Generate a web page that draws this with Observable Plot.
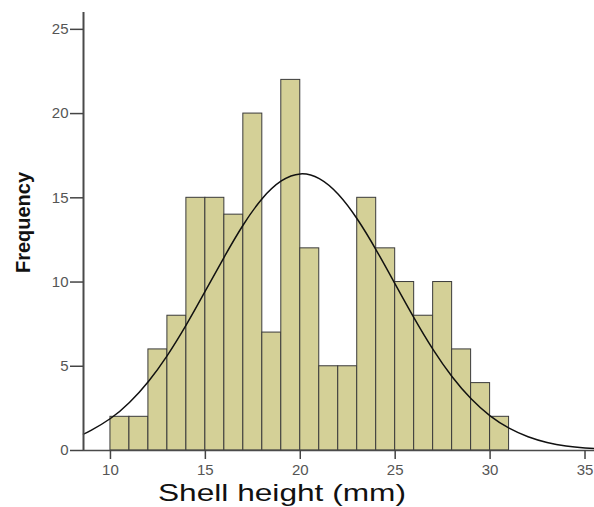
<!DOCTYPE html>
<html>
<head>
<meta charset="utf-8">
<script src="https://cdn.jsdelivr.net/npm/d3@7"></script>
<script src="https://cdn.jsdelivr.net/npm/@observablehq/plot@0.6"></script>
<style>
  html, body { margin: 0; padding: 0; background: #fff; }
  body { font-family: "Liberation Sans", Arial, sans-serif; }
</style>
</head>
<body>
<div id="chart"></div>
<script>
// Histogram bins (lower edge, width 1 mm) and frequencies
const binStarts = [10, 11, 12, 13, 14, 15, 16, 17, 18, 19, 20, 21, 22, 23, 24, 25, 26, 27, 28, 29, 30];
const frequencies = [2, 2, 6, 8, 15, 15, 14, 20, 7, 22, 12, 5, 5, 15, 12, 10, 8, 10, 6, 4, 2];

// Normal curve
const curveX = [8.58, 9, 10, 11, 12, 13, 14, 15, 16, 17, 18, 19, 20, 21, 22, 23, 24, 25, 26, 27, 28, 29, 30, 31, 32, 33, 34, 35, 35.5];
const curveY = [0.97, 1.21, 1.90, 2.85, 4.10, 5.65, 7.47, 9.47, 11.50, 13.40, 14.96, 16.00, 16.42, 16.14, 15.21, 13.74, 11.90, 9.88, 7.86, 5.99, 4.38, 3.07, 2.06, 1.33, 0.82, 0.48, 0.27, 0.15, 0.11];

const xTicks = [10, 15, 20, 25, 30, 35];
const yTicks = [0, 5, 10, 15, 20, 25];
const xLabel = "Shell height (mm)";
const yLabel = "Frequency";

const bars = binStarts.map((b, i) => ({x1: b, x2: b + 1, y: frequencies[i]}));
const curve = curveX.map((x, i) => ({x, y: curveY[i]}));

const xMin = 8.58, xMax = 35.5;

const chart = Plot.plot({
  width: 594,
  height: 507,
  marginLeft: 83,
  marginRight: 0,
  marginTop: 12,
  marginBottom: 57,
  style: {fontFamily: "'Liberation Sans', Arial, sans-serif", background: "#fff"},
  x: {domain: [xMin, xMax]},
  y: {domain: [0, 26]},
  marks: [
    Plot.rectY(bars, {x1: "x1", x2: "x2", y: "y", fill: "#d4d097", stroke: "#3a3a3a", strokeWidth: 1}),
    Plot.line(curve, {x: "x", y: "y", stroke: "#111", strokeWidth: 1.5, curve: "natural"}),
    Plot.ruleX([xMin], {stroke: "#4a4a4a", strokeWidth: 2}),
    Plot.ruleY([0], {stroke: "#4a4a4a", strokeWidth: 1.5}),
    // tick marks from the axes, labels drawn as text marks at the reference size
    Plot.axisX({ticks: xTicks, tickSize: 9, tickFormat: () => "", stroke: "#444", strokeWidth: 1.5, label: null}),
    Plot.axisY({ticks: yTicks, tickSize: 13, tickFormat: () => "", stroke: "#444", strokeWidth: 1.5, label: null}),
    Plot.text(xTicks, {x: d => d, frameAnchor: "bottom", lineAnchor: "middle", textAnchor: "middle", dy: 20, fontSize: 15, fill: "#555", text: d => String(d)}),
    Plot.text(yTicks, {y: d => d, frameAnchor: "left", lineAnchor: "middle", textAnchor: "end", dx: -15, fontSize: 15, fill: "#555", text: d => String(d)}),
    Plot.text([xLabel], {frameAnchor: "bottom", lineAnchor: "middle", textAnchor: "middle", dx: -57, dy: 43, fontSize: 24, fill: "#111", text: d => d, className: "xlab"}),
    Plot.text([yLabel], {frameAnchor: "left", lineAnchor: "middle", textAnchor: "middle", dx: -60, dy: -9, rotate: -90, fontSize: 20, fontWeight: "bold", fill: "#111", text: d => d})
  ]
});
document.getElementById("chart").appendChild(chart);
// the reference label is horizontally stretched
d3.select(chart).selectAll(".xlab text")
  .attr("textLength", 248)
  .attr("lengthAdjust", "spacingAndGlyphs");
</script>
</body>
</html>
